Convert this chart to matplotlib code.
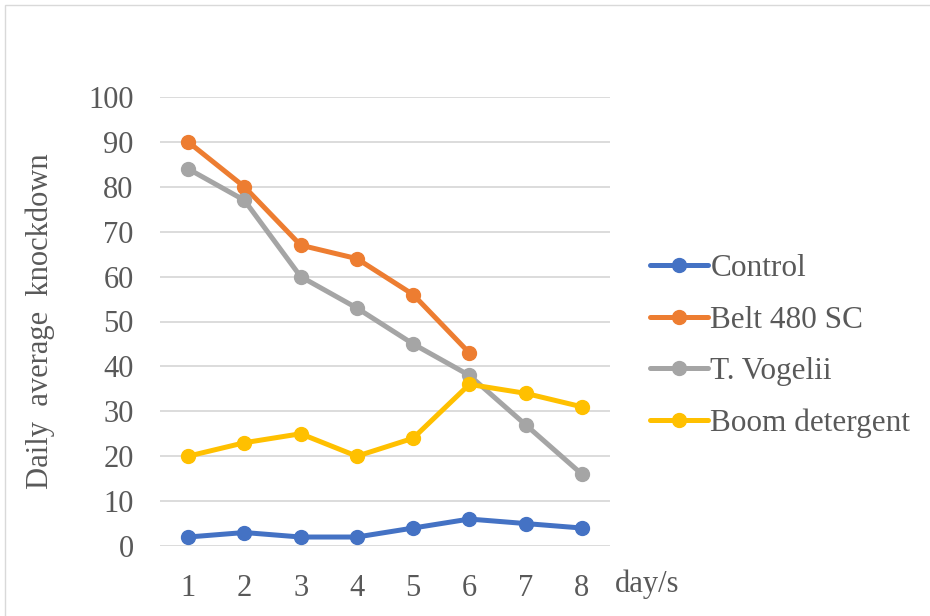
import matplotlib
matplotlib.use("Agg")
import matplotlib.pyplot as plt
from matplotlib.patches import Rectangle

days = [1, 2, 3, 4, 5, 6, 7, 8]
control = [2, 3, 2, 2, 4, 6, 5, 4]
belt = [90, 80, 67, 64, 56, 43]
vogelii = [84, 77, 60, 53, 45, 38, 27, 16]
boom = [20, 23, 25, 20, 24, 36, 34, 31]
series_names = ["Control", "Belt 480 SC", "T. Vogelii", "Boom detergent"]
colors = ["#4472C4", "#ED7D31", "#A5A5A5", "#FFC000"]
yticks = [0, 10, 20, 30, 40, 50, 60, 70, 80, 90, 100]

plt.rcParams['font.family'] = ['Liberation Serif', 'DejaVu Serif']
txt = "#595959"

fig = plt.figure(figsize=(9.30, 6.16), dpi=100)
fig.patches.append(Rectangle((5/930, -0.1), 1.2, 1 - 5/616 + 0.1, transform=fig.transFigure,
                             fill=False, edgecolor="#D9D9D9", linewidth=1.0))
ax = fig.add_axes([160/930, 1 - 546/616, 450/930, 449/616])

data = [control, belt, vogelii, boom]
for name, vals, c in zip(series_names, data, colors):
    ax.plot(days[:len(vals)], vals, color=c, lw=3.6, marker='o', markersize=10,
            label=name, solid_capstyle='round')

ax.set_xlim(0.5, 8.5)
ax.set_ylim(0, 100)
ax.set_yticks(yticks)
ax.set_xticks(days)
ax.grid(axis='y', color="#D9D9D9", lw=1.3)
ax.set_axisbelow(True)
for s in ax.spines.values():
    s.set_visible(False)
ax.tick_params(axis='both', length=0, labelsize=22, colors=txt)
ax.tick_params(axis='y', pad=19)
ax.tick_params(axis='x', pad=20)
ax.set_ylabel("Daily  average  knockdown", fontsize=22, color=txt, labelpad=24)
ax.text(1.01, -0.085, "day/s", transform=ax.transAxes, fontsize=22, color=txt,
        ha='left', va='center')

fig.legend(loc='center left', bbox_to_anchor=(650/930, 1 - 346/616), frameon=False,
           fontsize=22.5, labelcolor=txt, handlelength=1.85, handletextpad=0.08,
           labelspacing=0.72, borderpad=0, borderaxespad=0)

fig.savefig("out.png", dpi=100)
